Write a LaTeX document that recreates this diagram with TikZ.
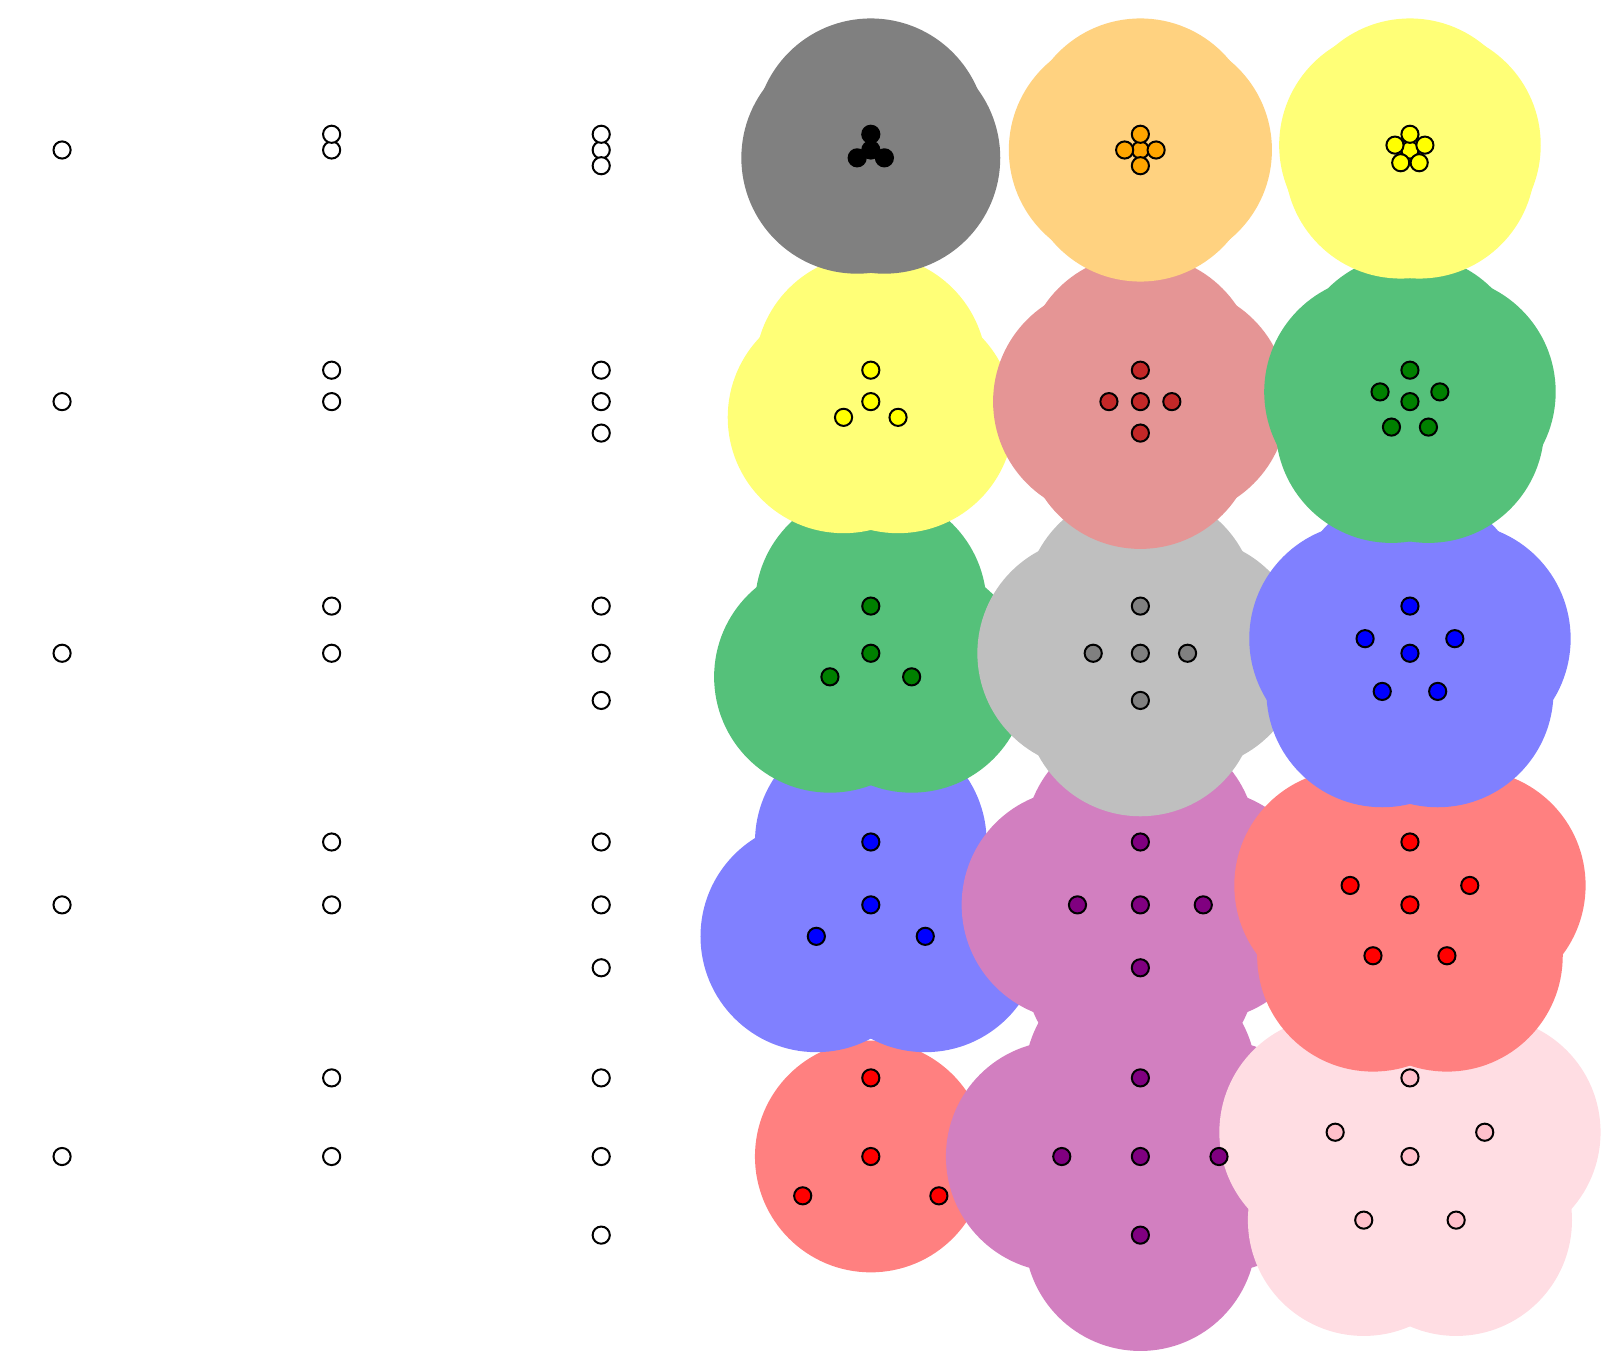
\documentclass[tikz,border=0pt]{standalone}
\definecolor{bGray}{HTML}{808080}
\definecolor{bOrange}{HTML}{FFD280}
\definecolor{bYellow}{HTML}{FFFF77}
\definecolor{bRose}{HTML}{E59595}
\definecolor{bGreen}{HTML}{55C17A}
\definecolor{bSilver}{HTML}{BFBFBF}
\definecolor{bBlue}{HTML}{8080FF}
\definecolor{bPurple}{HTML}{D27FC0}
\definecolor{bRed}{HTML}{FF8080}
\definecolor{bPink}{HTML}{FFDDE3}
\definecolor{pBlack}{HTML}{000000}
\definecolor{pOrange}{HTML}{FFA500}
\definecolor{pYellow}{HTML}{FFFF00}
\definecolor{pRose}{HTML}{C32828}
\definecolor{pGreen}{HTML}{008000}
\definecolor{pGray}{HTML}{808080}
\definecolor{pBlue}{HTML}{0000FF}
\definecolor{pPurple}{HTML}{800080}
\definecolor{pRed}{HTML}{FF0000}
\definecolor{pPink}{HTML}{FFC0CB}
\begin{document}
\begin{tikzpicture}[x=0.02cm,y=-0.02cm,
  pt/.style={circle,draw=black,line width=1.1pt,inner sep=0pt,minimum size=0.332cm}]
\useasboundingbox (0,0) rectangle (1568,1325);
\def\Rb{2.24cm}
% ---------- blobs, column 4 ----------
\fill[bRed] (841.8,1118) circle[radius=\Rb];
\foreach \r/\bc in {4/bBlue,3/bGreen,2/bYellow,1/bGray}{
  \pgfmathsetmacro\cy{145+(\r-1)*243.25}
  \pgfmathsetmacro\d{15.2*\r}
  \fill[\bc] (841.8,\cy) circle[radius=\Rb];
  \foreach \a in {90,210,330} {\fill[\bc] ({841.8+\d*cos(\a)},{\cy-\d*sin(\a)}) circle[radius=\Rb];}
}
% ---------- blobs, column 5 ----------
\foreach \r/\bc in {5/bPurple,4/bPurple,3/bSilver,2/bRose,1/bOrange}{
  \pgfmathsetmacro\cy{145+(\r-1)*243.25}
  \pgfmathsetmacro\d{15.2*\r}
  \fill[\bc] (1102.4,\cy) circle[radius=\Rb];
  \foreach \a in {90,180,0,270} {\fill[\bc] ({1102.4+\d*cos(\a)},{\cy-\d*sin(\a)}) circle[radius=\Rb];}
}
% ---------- blobs, column 6 ----------
\foreach \r/\bc in {5/bPink,4/bRed,3/bBlue,2/bGreen,1/bYellow}{
  \pgfmathsetmacro\cy{145+(\r-1)*243.25}
  \pgfmathsetmacro\d{15.2*\r}
  \fill[\bc] (1363,\cy) circle[radius=\Rb];
  \foreach \a in {90,162,18,234,306} {\fill[\bc] ({1363+\d*cos(\a)},{\cy-\d*sin(\a)}) circle[radius=\Rb];}
}
% ---------- points ----------
\foreach \r in {1,...,5}{
  \pgfmathsetmacro\cy{145+(\r-1)*243.25}
  \pgfmathsetmacro\d{15.2*\r}
  \node[pt,fill=white] (p\r-1-c) at (60,\cy) {};
  \node[pt,fill=white] (p\r-2-c) at (320.6,\cy) {};
  \node[pt,fill=white] (p\r-2-u) at (320.6,\cy-\d) {};
  \node[pt,fill=white] (p\r-3-c) at (581.2,\cy) {};
  \node[pt,fill=white] (p\r-3-u) at (581.2,\cy-\d) {};
  \node[pt,fill=white] (p\r-3-d) at (581.2,\cy+\d) {};
}
\foreach \r/\pc in {1/pBlack,2/pYellow,3/pGreen,4/pBlue,5/pRed}{
  \pgfmathsetmacro\cy{145+(\r-1)*243.25}
  \pgfmathsetmacro\d{15.2*\r}
  \node[pt,fill=\pc] (p\r-4-c) at (841.8,\cy) {};
  \foreach \a in {90,210,330} {\node[pt,fill=\pc] (p\r-4-\a) at ({841.8+\d*cos(\a)},{\cy-\d*sin(\a)}) {};}
}
\foreach \r/\pc in {1/pOrange,2/pRose,3/pGray,4/pPurple,5/pPurple}{
  \pgfmathsetmacro\cy{145+(\r-1)*243.25}
  \pgfmathsetmacro\d{15.2*\r}
  \node[pt,fill=\pc] (p\r-5-c) at (1102.4,\cy) {};
  \foreach \a in {90,180,0,270} {\node[pt,fill=\pc] (p\r-5-\a) at ({1102.4+\d*cos(\a)},{\cy-\d*sin(\a)}) {};}
}
\foreach \r/\pc in {1/pYellow,2/pGreen,3/pBlue,4/pRed,5/pPink}{
  \pgfmathsetmacro\cy{145+(\r-1)*243.25}
  \pgfmathsetmacro\d{15.2*\r}
  \node[pt,fill=\pc] (p\r-6-c) at (1363,\cy) {};
  \foreach \a in {90,162,18,234,306} {\node[pt,fill=\pc] (p\r-6-\a) at ({1363+\d*cos(\a)},{\cy-\d*sin(\a)}) {};}
}
\end{tikzpicture}
\end{document}
